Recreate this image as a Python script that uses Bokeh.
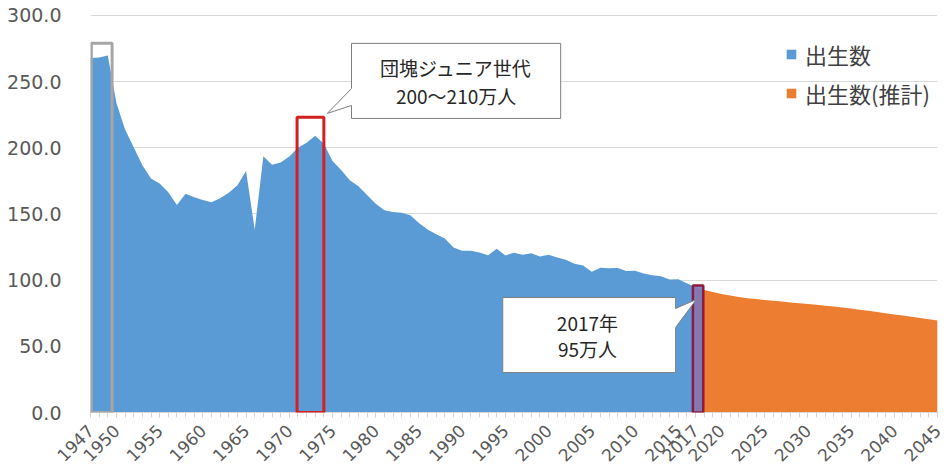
import math
from bokeh.plotting import figure
from bokeh.models import (FixedTicker, NumeralTickFormatter, Legend, LegendItem,
                          BoxAnnotation, PolyAnnotation, Label, Range1d)
from bokeh.embed import file_html
from bokeh.resources import INLINE

# ---- data (万人) ----
years_actual = list(range(1947, 2018))
births_actual = [
    267.9, 268.2, 269.7, 233.8, 213.8, 200.5, 186.8, 176.9, 173.1, 166.5,  # 1947-1956
    156.7, 165.3, 162.6, 160.6, 158.9, 161.9, 166.0, 171.7, 182.4, 138.0,  # 1957-1966
    193.6, 187.2, 188.9, 193.4, 200.1, 203.9, 209.2, 203.0, 190.1, 183.3,  # 1967-1976
    175.5, 170.9, 164.3, 157.7, 152.9, 151.5, 150.9, 149.0, 143.2, 138.3,  # 1977-1986
    134.7, 131.4, 124.7, 122.2, 122.3, 120.9, 118.8, 123.8, 118.7, 120.7,  # 1987-1996
    119.2, 120.3, 117.8, 119.1, 117.1, 115.4, 112.4, 111.1, 106.3, 109.3,  # 1997-2006
    109.0, 109.1, 107.0, 107.1, 105.1, 103.7, 103.0, 100.4, 100.6, 97.7,   # 2007-2016
    94.6,                                                                   # 2017
]
years_proj = list(range(2017, 2046))
births_proj = [
    94.6, 92.6, 91.0, 89.6, 88.4, 87.3, 86.4, 85.7, 85.0, 84.4,  # 2017-2026
    83.8, 83.2, 82.6, 82.0, 81.4, 80.7, 80.0, 79.3, 78.5, 77.6,  # 2027-2036
    76.8, 75.9, 75.0, 74.1, 73.2, 72.3, 71.4, 70.5, 69.6,        # 2037-2045
]
x_tick_years = [1947, 1950, 1955, 1960, 1965, 1970, 1975, 1980, 1985, 1990, 1995,
                2000, 2005, 2010, 2015, 2017, 2020, 2025, 2030, 2035, 2040, 2045]
y_ticks = [0, 50, 100, 150, 200, 250, 300]
series_labels = ["出生数", "出生数(推計)"]
callout1_lines = ["団塊ジュニア世代", "200～210万人"]
callout2_lines = ["2017年", "95万人"]

FONT = "Noto Sans CJK JP"
NUMFONT = "DejaVu Sans"

p = figure(width=946, height=470,
           x_range=Range1d(1947, 2045), y_range=Range1d(0, 311.3),
           min_border_left=90, min_border_right=9, min_border_top=0, min_border_bottom=58,
           output_backend="svg", toolbar_location=None)
p.outline_line_color = None
p.background_fill_color = "white"
p.border_fill_color = "white"

r1 = p.varea(x=years_actual, y1=[0] * len(years_actual), y2=births_actual,
             fill_color="#5b9bd5")
r2 = p.varea(x=years_proj, y1=[0] * len(years_proj), y2=births_proj,
             fill_color="#ed7d31")

# axes
p.yaxis.ticker = FixedTicker(ticks=y_ticks)
p.yaxis.formatter = NumeralTickFormatter(format="0.0")
p.yaxis.axis_line_color = None
p.yaxis.major_tick_line_color = None
p.yaxis.minor_tick_line_color = None
p.yaxis.major_label_standoff = 23
p.yaxis.major_label_text_font = NUMFONT
p.yaxis.major_label_text_font_size = "19px"
p.yaxis.major_label_text_color = "#595959"

p.xaxis.ticker = FixedTicker(ticks=x_tick_years, minor_ticks=years_actual + years_proj[1:])
p.xaxis.major_label_orientation = math.pi / 4
p.xaxis.axis_line_color = "#d9d9d9"
p.xaxis.major_tick_line_color = "#e6cfcf"
p.xaxis.minor_tick_line_color = "#e6cfcf"
p.xaxis.major_tick_in = 0
p.xaxis.major_tick_out = 5
p.xaxis.minor_tick_in = 0
p.xaxis.minor_tick_out = 5
p.xaxis.major_label_standoff = 10
p.xaxis.major_label_text_font = NUMFONT
p.xaxis.major_label_text_font_size = "17px"
p.xaxis.major_label_text_color = "#595959"

p.xgrid.grid_line_color = None
p.ygrid.ticker = FixedTicker(ticks=y_ticks)
p.ygrid.grid_line_color = "#d9d9d9"
p.ygrid.grid_line_width = 1

# highlight boxes
p.add_layout(BoxAnnotation(left=1947.1, right=1949.5, bottom=0, top=279,
                           fill_alpha=0, line_color="#a6a6a6", line_alpha=1, line_width=3))
p.add_layout(BoxAnnotation(left=1970.9, right=1974.0, bottom=0, top=223,
                           fill_alpha=0, line_color="#d42020", line_alpha=1, line_width=3))
p.add_layout(BoxAnnotation(left=2016.7, right=2017.9, bottom=0, top=96,
                           fill_color="#7a78bd", fill_alpha=0.9,
                           line_color="#8e1b3e", line_alpha=1, line_width=2.5))

# callouts
p.add_layout(PolyAnnotation(
    xs=[1977.2, 2001.4, 2001.4, 1977.2, 1977.2, 1974.4, 1977.2],
    ys=[278.9, 278.9, 222.2, 222.2, 232.0, 226.0, 244.8],
    fill_color="white", fill_alpha=1, line_color="#7f7f7f", line_alpha=1, line_width=1))
p.add_layout(PolyAnnotation(
    xs=[1994.7, 2014.7, 2014.7, 2017.1, 2014.7, 2014.7, 1994.7],
    ys=[86.9, 86.9, 78.6, 85.4, 64.2, 30.2, 30.2],
    fill_color="white", fill_alpha=1, line_color="#7f7f7f", line_alpha=1, line_width=1))

for txt, yy in zip(callout1_lines, [260.7, 239.6]):
    p.add_layout(Label(x=1989.3, y=yy, text=txt, text_align="center",
                       text_baseline="middle", text_font=FONT,
                       text_font_size="19px", text_color="#262626"))
for txt, yy in zip(callout2_lines, [68.0, 48.4]):
    p.add_layout(Label(x=2004.5, y=yy, text=txt, text_align="center",
                       text_baseline="middle", text_font=FONT,
                       text_font_size="19px", text_color="#262626"))

legend = Legend(items=[LegendItem(label=series_labels[0], renderers=[r1]),
                       LegendItem(label=series_labels[1], renderers=[r2])],
                location=(695, 303), orientation="vertical",
                glyph_width=12, glyph_height=12, label_standoff=8,
                label_height=24, spacing=7, padding=0, margin=0,
                border_line_color=None, background_fill_alpha=0,
                label_text_font=FONT, label_text_font_size="22px",
                label_text_color="#404040")
p.add_layout(legend)

open("out.html", "w").write(file_html(p, INLINE))
